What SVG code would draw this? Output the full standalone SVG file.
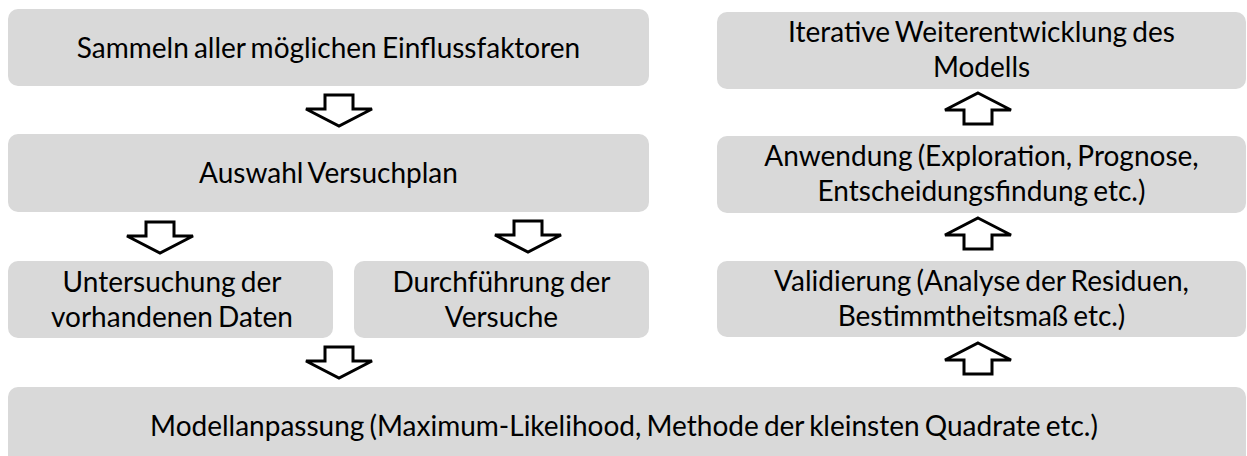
<svg xmlns="http://www.w3.org/2000/svg" xmlns:xlink="http://www.w3.org/1999/xlink" width="1247" height="456" viewBox="0 0 1247 456">
  <style>
    .box { fill: #d9d9d9; }
    .lbl { font-family: Lato, "Open Sans", "Liberation Sans", sans-serif; font-size: 28px; fill: #000; text-anchor: middle; word-spacing: -2px; }
    .arr { fill: #fff; stroke: #000; stroke-width: 3; stroke-linejoin: miter; }
  </style>
  <defs>
    <!-- block arrow pointing down, origin at top centre of the shaft -->
    <path id="down" class="arr" d="M-14,0 H14 V14 H33 L0,31 L-33,14 H-14 Z"/>
    <!-- block arrow pointing up, origin at the tip -->
    <path id="up" class="arr" d="M0,0 L33,17 H14 V31 H-14 V17 H-33 Z"/>
  </defs>

  <rect width="1247" height="456" fill="#fff"/>

  <g id="n-sammeln">
    <rect class="box" x="8" y="9" width="641" height="77" rx="10"/>
    <text class="lbl" x="328.5" y="58">Sammeln aller möglichen Einflussfaktoren</text>
  </g>

  <g id="n-auswahl">
    <rect class="box" x="8" y="134" width="641" height="78" rx="10"/>
    <text class="lbl" x="328.5" y="183">Auswahl Versuchplan</text>
  </g>

  <g id="n-untersuchung">
    <rect class="box" x="8" y="261" width="325" height="77" rx="10"/>
    <text class="lbl" x="172" y="292">Untersuchung der</text>
    <text class="lbl" x="172" y="327">vorhandenen Daten</text>
  </g>

  <g id="n-durchfuehrung">
    <rect class="box" x="354" y="261" width="295" height="77" rx="10"/>
    <text class="lbl" x="501.5" y="292">Durchführung der</text>
    <text class="lbl" x="501.5" y="327">Versuche</text>
  </g>

  <g id="n-modellanpassung">
    <rect class="box" x="8" y="387" width="1238" height="85" rx="10"/>
    <text class="lbl" x="624" y="436">Modellanpassung (Maximum-Likelihood, Methode der kleinsten Quadrate etc.)</text>
  </g>

  <g id="n-validierung">
    <rect class="box" x="717" y="261" width="529" height="76" rx="10"/>
    <text class="lbl" x="981.5" y="291">Validierung (Analyse der Residuen,</text>
    <text class="lbl" x="981.5" y="326">Bestimmtheitsmaß etc.)</text>
  </g>

  <g id="n-anwendung">
    <rect class="box" x="717" y="136" width="529" height="77" rx="10"/>
    <text class="lbl" x="981.5" y="166">Anwendung (Exploration, Prognose,</text>
    <text class="lbl" x="981.5" y="201">Entscheidungsfindung etc.)</text>
  </g>

  <g id="n-iterative">
    <rect class="box" x="717" y="12" width="529" height="77" rx="10"/>
    <text class="lbl" x="981.5" y="42">Iterative Weiterentwicklung des</text>
    <text class="lbl" x="981.5" y="77">Modells</text>
  </g>

  <g id="connectors">
    <use xlink:href="#down" x="339" y="95"/>
    <use xlink:href="#down" x="160" y="222"/>
    <use xlink:href="#down" x="528" y="221"/>
    <use xlink:href="#down" x="339" y="347"/>
    <use xlink:href="#up" x="978" y="343"/>
    <use xlink:href="#up" x="978" y="218"/>
    <use xlink:href="#up" x="978" y="93"/>
  </g>
</svg>
